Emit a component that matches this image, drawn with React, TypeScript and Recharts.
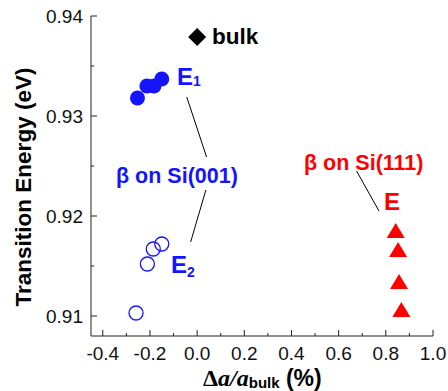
import React from 'react';
import { ScatterChart, Scatter, XAxis, YAxis, ReferenceLine } from 'recharts';

// E1 (filled circles) and E2 (open circles), beta on Si(001)
const e1X = [-0.253, -0.213, -0.183, -0.15];
const e1Y = [0.9318, 0.933, 0.933, 0.9337];
const e2X = [-0.259, -0.211, -0.186, -0.15];
const e2Y = [0.9103, 0.9152, 0.9167, 0.9172];
// bulk
const bulkX = [0.0];
const bulkY = [0.9379];
// beta on Si(111)
const s111X = [0.842, 0.852, 0.856, 0.866];
const s111Y = [0.9185, 0.9166, 0.9134, 0.9106];

const xTicks = [-0.4, -0.3, -0.2, -0.1, 0, 0.1, 0.2, 0.3, 0.4, 0.5, 0.6, 0.7, 0.8, 0.9, 1.0];
const yTicks = [0.91, 0.915, 0.92, 0.925, 0.93, 0.935, 0.94];

const BLUE = '#1414ff';
const RED = '#ff0000';
const AXIS = '#222';
const FONT = '"Liberation Sans", Arial, sans-serif';
const SERIF = '"Liberation Serif", "Times New Roman", serif';

const zip = (xs: number[], ys: number[]) => xs.map((x, i) => ({ x, y: ys[i] }));

const isMajorX = (v: number) => Math.round(v * 10) % 2 === 0;
const isMajorY = (v: number) => Math.round(v * 1000) % 10 === 0;

const BottomTick = ({ x, y, payload }: any) => {
  const major = isMajorX(payload.value);
  return (
    <g>
      <line x1={x} x2={x} y1={y} y2={y - (major ? 6 : 3)} stroke={AXIS} />
      {major && (
        <text x={x} y={y + 24} textAnchor="middle" fontSize={19} fontFamily={FONT} fill="#111">
          {payload.value.toFixed(1)}
        </text>
      )}
    </g>
  );
};

const TopTick = ({ x, y, payload }: any) => (
  <line x1={x} x2={x} y1={y} y2={y + (isMajorX(payload.value) ? 6 : 3)} stroke={AXIS} />
);

const LeftTick = ({ x, y, payload }: any) => {
  const major = isMajorY(payload.value);
  return (
    <g>
      <line x1={x} x2={x + (major ? 6 : 3)} y1={y} y2={y} stroke={AXIS} />
      {major && (
        <text x={x - 8} y={y + 7} textAnchor="end" fontSize={19} fontFamily={FONT} fill="#111">
          {payload.value.toFixed(2)}
        </text>
      )}
    </g>
  );
};

const RightTick = ({ x, y, payload }: any) => (
  <line x1={x} x2={x - (isMajorY(payload.value) ? 6 : 3)} y1={y} y2={y} stroke={AXIS} />
);

const FilledCircle = ({ cx, cy }: any) => <circle cx={cx} cy={cy} r={7.5} fill={BLUE} />;
const OpenCircle = ({ cx, cy }: any) => (
  <circle cx={cx} cy={cy} r={7} fill="none" stroke={BLUE} strokeWidth={1.3} />
);
const Diamond = ({ cx, cy }: any) => (
  <polygon points={`${cx},${cy - 9} ${cx + 9},${cy} ${cx},${cy + 9} ${cx - 9},${cy}`} fill="#000" />
);
const Triangle = ({ cx, cy }: any) => (
  <polygon points={`${cx},${cy - 8} ${cx + 9},${cy + 7} ${cx - 9},${cy + 7}`} fill={RED} />
);

export default function App() {
  return (
    <div style={{ position: 'absolute', left: 0, top: 0, width: 448, height: 391 }}>
      <ScatterChart width={448} height={391} margin={{ top: 16, right: 15, bottom: 0, left: 0 }}>
        <XAxis
          type="number"
          dataKey="x"
          domain={[-0.45, 1.0]}
          ticks={xTicks}
          interval={0}
          height={55}
          tickSize={0}
          tickMargin={0}
          tickLine={false}
          tick={BottomTick}
          axisLine={{ stroke: AXIS }}
          allowDataOverflow
        />
        <XAxis
          xAxisId="top"
          orientation="top"
          type="number"
          domain={[-0.45, 1.0]}
          ticks={xTicks}
          interval={0}
          height={0}
          tickSize={0}
          tickMargin={0}
          tickLine={false}
          tick={TopTick}
          axisLine={{ stroke: AXIS }}
          allowDataOverflow
        />
        <YAxis
          type="number"
          dataKey="y"
          domain={[0.908, 0.94]}
          ticks={yTicks}
          interval={0}
          width={91}
          tickSize={0}
          tickMargin={0}
          tickLine={false}
          tick={LeftTick}
          axisLine={{ stroke: AXIS }}
          allowDataOverflow
        />
        <YAxis
          yAxisId="right"
          orientation="right"
          type="number"
          domain={[0.908, 0.94]}
          ticks={yTicks}
          interval={0}
          width={0}
          tickSize={0}
          tickMargin={0}
          tickLine={false}
          tick={RightTick}
          axisLine={{ stroke: AXIS }}
          allowDataOverflow
        />
        <ReferenceLine segment={[{ x: -0.044, y: 0.9319 }, { x: 0.04, y: 0.9259 }]} stroke="#000" strokeWidth={1} />
        <ReferenceLine segment={[{ x: 0.037, y: 0.9226 }, { x: -0.0275, y: 0.9174 }]} stroke="#000" strokeWidth={1} />
        <ReferenceLine segment={[{ x: 0.676, y: 0.9245 }, { x: 0.771, y: 0.9205 }]} stroke="#000" strokeWidth={1} />
        <Scatter data={zip(bulkX, bulkY)} shape={Diamond} isAnimationActive={false} />
        <Scatter data={zip(e1X, e1Y)} shape={FilledCircle} isAnimationActive={false} />
        <Scatter data={zip(e2X, e2Y)} shape={OpenCircle} isAnimationActive={false} />
        <Scatter data={zip(s111X, s111Y)} shape={Triangle} isAnimationActive={false} />
      </ScatterChart>
      <svg
        width={448}
        height={391}
        style={{ position: 'absolute', left: 0, top: 0, pointerEvents: 'none' }}
        fontFamily={FONT}
        fontWeight="bold"
      >
        <text x={212} y={44} fontSize={22.5} fill="#000">bulk</text>
        <text x={177} y={85} fontSize={24} fill={BLUE}>
          E<tspan fontSize={14} dy={1}>1</tspan>
        </text>
        <text x={116} y={183} fontSize={21.5} fill={BLUE}>β on Si(001)</text>
        <text x={171} y={273} fontSize={24} fill={BLUE}>
          E<tspan fontSize={14} dy={4}>2</tspan>
        </text>
        <text x={304} y={170} fontSize={21.5} fill={RED}>β on Si(111)</text>
        <text x={384} y={210} fontSize={24} fill={RED}>E</text>
        <text transform="translate(31,187) rotate(-90)" textAnchor="middle" fontSize={22.5} fill="#000">
          Transition Energy (eV)
        </text>
        <text x={203} y={386} fontSize={23} fill="#000">
          <tspan fontFamily={SERIF} fontSize={24}>Δ</tspan>
          <tspan fontFamily={SERIF} fontStyle="italic" fontSize={24}>a/a</tspan>
          <tspan fontSize={15} dy={1.5}>bulk</tspan>
          <tspan dy={-1.5}> (%)</tspan>
        </text>
      </svg>
    </div>
  );
}
